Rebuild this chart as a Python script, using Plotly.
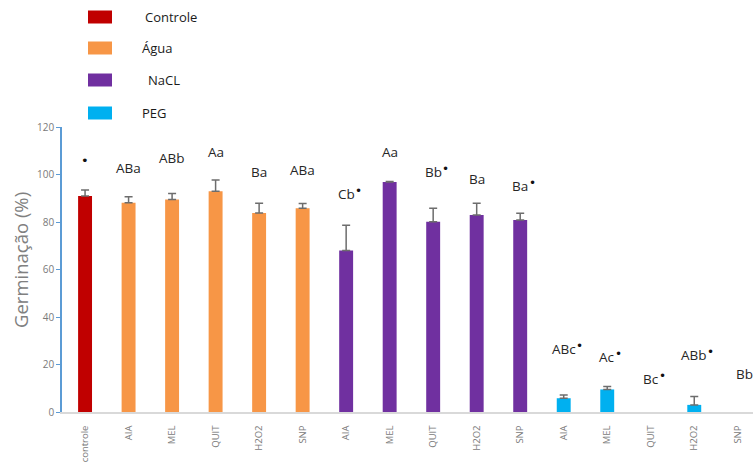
import plotly.graph_objects as go

# ---- data ----
groups = ["Controle", "Água", "NaCL", "PEG"]
group_colors = ["#c00000", "#f79646", "#7030a0", "#00b0f0"]
tick_labels = ["controle", "AIA", "MEL", "QUIT", "H2O2", "SNP",
               "AIA", "MEL", "QUIT", "H2O2", "SNP",
               "AIA", "MEL", "QUIT", "H2O2", "SNP"]
bar_group = [0, 1, 1, 1, 1, 1, 2, 2, 2, 2, 2, 3, 3, 3, 3, 3]
germ = [91.0, 88.1, 89.5, 93.0, 83.8, 85.8,
        68.0, 96.8, 80.1, 83.0, 80.8,
        5.8, 9.5, 0.0, 3.0, 0.0]
err = [2.5, 2.5, 2.5, 4.7, 4.1, 2.0,
       10.6, 0.3, 5.7, 4.9, 2.9,
       1.4, 1.2, 0.0, 3.5, 0.0]
letters = ["", "ABa", "ABb", "Aa", "Ba", "ABa",
           "Cb", "Aa", "Bb", "Ba", "Ba",
           "ABc", "Ac", "Bc", "ABb", "Bb"]
letter_dot = [True, False, False, False, False, False,
              True, False, True, False, True,
              True, True, True, True, False]
letter_y = [106.1, 102.9, 106.8, 109.6, 101.0, 101.8,
            91.8, 109.3, 101.0, 98.0, 95.3,
            26.4, 23.3, 13.9, 23.9, 15.8]

W, H = 753, 468
L, R, T, B = 62, 0, 127, 56
PW, PH = W - L - R, H - T - B


def px(x):
    return (x - L) / PW


def py(y):
    return (H - B - y) / PH


CHAR_W = {"A": 8.4, "B": 8.2, "C": 8.0, "a": 7.2, "b": 7.8, "c": 6.3}
LFS = 13.5


def text_w(s):
    return sum(CHAR_W.get(c, 7.5) for c in s) * LFS / 13.0


fig = go.Figure()
for g, (name, col) in enumerate(zip(groups, group_colors)):
    idx = [i for i, bg in enumerate(bar_group) if bg == g]
    # non-numeric entries make plotly skip the error bar entirely (no stray caps)
    fig.add_trace(go.Bar(
        x=idx, y=[germ[i] for i in idx],
        marker=dict(color=col, line=dict(width=0)),
        width=0.32, name=name, showlegend=False,
        error_y=dict(type="data",
                     array=[err[i] if err[i] > 0 else "-" for i in idx],
                     arrayminus=["-"] * len(idx), symmetric=False,
                     color="#6d6d6d", thickness=1.5, width=4),
    ))

lfont = dict(family="Open Sans", size=LFS, color="#262626")
n = len(letters)
for i, (t, d, yv) in enumerate(zip(letters, letter_dot, letter_y)):
    shift = 7 if i == n - 1 else 0
    if t:
        fig.add_annotation(x=i, y=yv, xref="x", yref="y", text=t, showarrow=False,
                           xshift=shift, font=lfont)
        if d:
            fig.add_annotation(x=i, y=yv, xref="x", yref="y", text="•", showarrow=False,
                               xanchor="left", xshift=shift + text_w(t) / 2 - 1.5, yshift=3,
                               font=dict(family="DejaVu Sans", size=12, color="#111111"))
    elif d:
        fig.add_annotation(x=i, y=yv, xref="x", yref="y", text="•", showarrow=False,
                           font=dict(family="DejaVu Sans", size=13, color="#111111"))

# manual legend
legend_rows = [17, 48, 80, 113]
legend_text_x = [143, 140, 146, 140]
for (name, col, ry, tx) in zip(groups, group_colors, legend_rows, legend_text_x):
    fig.add_shape(type="rect", xref="paper", yref="paper",
                  x0=px(88), x1=px(112), y0=py(ry + 6.5), y1=py(ry - 6.5),
                  fillcolor=col, line=dict(width=0))
    fig.add_annotation(xref="paper", yref="paper", x=px(tx), y=py(ry),
                       xanchor="left", yanchor="middle", text=name, showarrow=False,
                       font=dict(family="Open Sans", size=13, color="#1a1a1a"))

# y-axis title as annotation (precise placement)
fig.add_annotation(xref="paper", yref="paper", x=px(20), y=py(260), text="Germinação (%)",
                   textangle=-90, showarrow=False, xanchor="center", yanchor="middle",
                   font=dict(family="Open Sans", size=18.5, color="#808080"))

fig.update_layout(
    width=W, height=H,
    margin=dict(l=L, r=R, t=T, b=B, pad=0),
    plot_bgcolor="white", paper_bgcolor="white",
    xaxis=dict(range=[-0.53, 15.35], tickvals=list(range(len(tick_labels))),
               ticktext=tick_labels, tickangle=-90, showgrid=False,
               showline=True, linecolor="#d9d9d9", linewidth=1.5,
               ticks="outside", ticklen=8, tickcolor="rgba(0,0,0,0)",
               tickfont=dict(family="Open Sans", size=9.5, color="#7a7a7a"),
               zeroline=False),
    yaxis=dict(range=[0, 120], dtick=20, showgrid=False, zeroline=False,
               showline=True, linecolor="#5b9bd5", linewidth=1.5,
               ticks="outside", ticklen=4, tickcolor="#5b9bd5",
               tickfont=dict(family="Open Sans", size=10, color="#7a7a7a")),
)

fig.write_html("out.html")
